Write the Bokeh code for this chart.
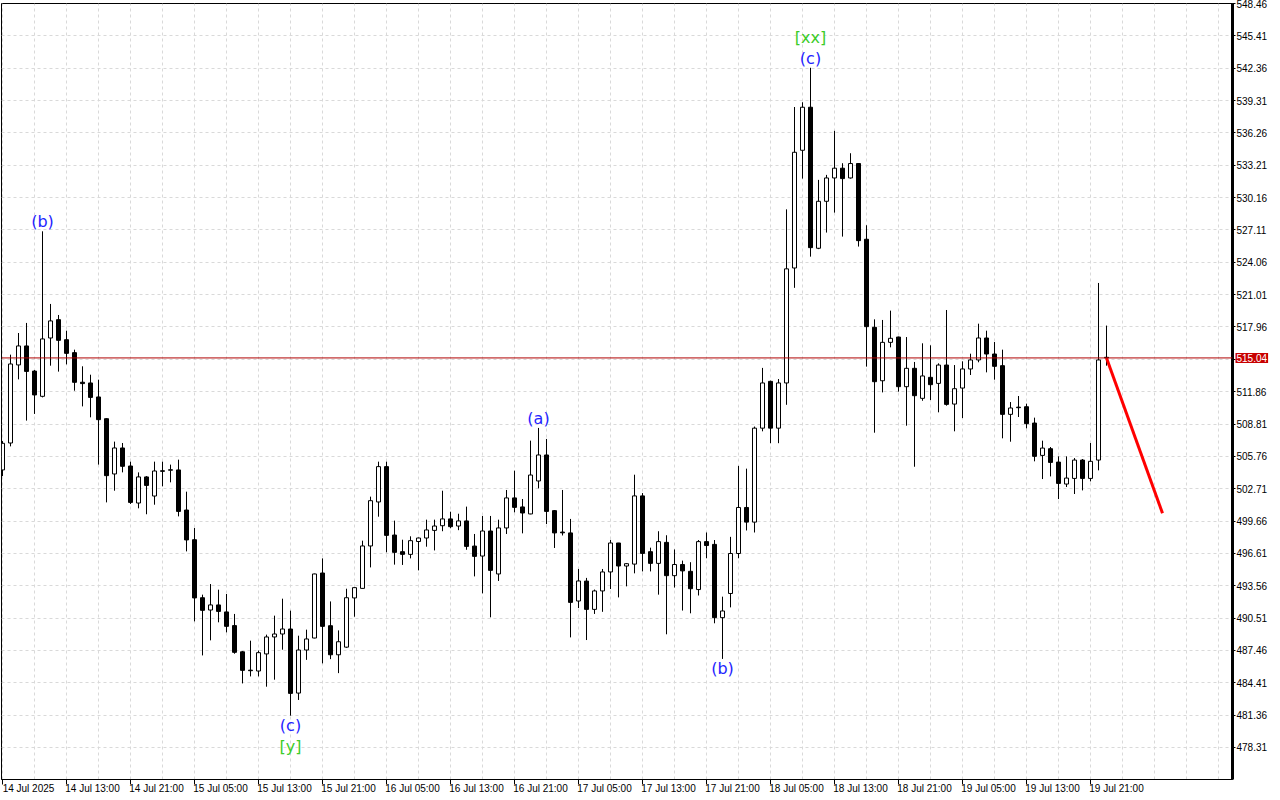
from bokeh.plotting import figure
from bokeh.models import Range1d, FixedTicker, Span, Label, ColumnDataSource, LinearAxis
from bokeh.embed import file_html
from bokeh.resources import INLINE
from bokeh.core.properties import value

# ---------------- data (hourly candles from 14 Jul 2025 05:00) ----------------
opens = [504.48, 507.02, 514.38, 516.17, 513.80, 511.42, 516.92, 518.65, 516.76, 515.54,
         512.75, 512.68, 511.36, 509.31, 504.10, 506.55, 504.85, 501.36, 503.82, 502.02,
         504.40, 504.45, 504.48, 500.70, 497.90, 492.43, 491.27, 491.75, 491.09, 489.80,
         487.33, 485.60, 485.52, 487.13, 488.73, 489.01, 489.48, 483.44, 487.50, 488.63,
         494.76, 489.79, 487.05, 487.77, 492.41, 493.31, 497.31, 501.46, 504.79, 498.34,
         496.77, 496.52, 497.73, 498.06, 498.78, 499.22, 499.86, 499.19, 499.67, 497.30,
         496.36, 498.72, 494.67, 499.01, 501.84, 500.99, 500.33, 503.44, 505.89, 500.64,
         498.62, 498.54, 492.12, 494.00, 491.33, 493.07, 494.86, 497.59, 495.42, 495.60,
         502.03, 496.77, 495.67, 497.65, 494.51, 495.56, 494.92, 493.20, 497.72, 497.46,
         490.55, 492.83, 496.60, 500.94, 499.56, 508.42, 512.83, 508.42, 512.68, 523.52,
         534.62, 538.68, 525.38, 529.81, 532.01, 532.93, 532.01, 533.37, 526.23, 517.93,
         512.89, 516.51, 517.01, 512.33, 514.06, 511.23, 513.21, 512.64, 514.37, 510.69,
         512.20, 514.00, 514.85, 516.92, 515.41, 514.31, 509.72, 510.40, 510.44, 508.90,
         505.85, 506.48, 505.22, 503.15, 503.68, 505.41, 503.68, 505.41, 515.10]
highs = [507.20, 515.35, 517.39, 518.34, 513.90, 526.98, 520.13, 519.09, 517.61, 515.82,
         514.25, 513.46, 512.99, 509.35, 507.15, 507.02, 505.26, 504.25, 503.90, 505.26,
         505.26, 504.98, 505.45, 502.43, 499.01, 492.72, 493.72, 493.19, 492.78, 490.90,
         487.40, 488.38, 487.45, 488.95, 490.74, 492.34, 491.21, 488.85, 489.42, 494.70,
         496.14, 492.08, 489.35, 493.28, 493.40, 497.81, 501.96, 505.26, 505.26, 499.70,
         497.90, 498.22, 498.10, 499.79, 499.79, 502.52, 500.54, 500.35, 501.02, 498.44,
         500.14, 500.14, 499.79, 502.59, 504.41, 501.74, 507.24, 508.44, 507.40, 500.70,
         502.59, 499.86, 495.14, 494.30, 493.20, 495.14, 497.88, 497.60, 495.70, 504.03,
         502.30, 497.15, 498.70, 498.32, 496.98, 495.93, 495.78, 497.87, 498.58, 497.87,
         492.53, 498.17, 504.86, 504.60, 508.57, 514.10, 512.90, 513.05, 529.05, 538.70,
         539.15, 542.40, 531.83, 532.30, 536.45, 533.40, 534.34, 533.40, 527.55, 518.68,
         518.62, 519.50, 517.05, 517.01, 514.66, 516.42, 516.23, 514.53, 519.56, 514.37,
         514.72, 515.44, 518.27, 517.61, 516.54, 515.82, 510.88, 511.45, 510.73, 509.41,
         507.24, 506.64, 505.76, 505.76, 505.60, 505.51, 507.02, 522.11, 518.09]
lows = [503.90, 506.70, 513.02, 509.13, 509.76, 511.32, 514.31, 513.75, 514.43, 511.95,
        510.47, 509.44, 504.98, 501.42, 502.52, 504.25, 501.27, 500.86, 500.30, 501.20,
        502.93, 503.31, 500.10, 496.80, 490.20, 486.99, 488.41, 490.11, 489.16, 487.15,
        484.35, 485.01, 485.01, 484.04, 484.70, 487.53, 481.31, 482.79, 486.57, 488.60,
        486.24, 486.64, 485.32, 487.70, 490.64, 493.30, 495.29, 500.07, 496.71, 495.55,
        495.52, 496.14, 495.01, 497.24, 496.89, 498.70, 498.98, 498.80, 496.95, 494.44,
        492.84, 490.58, 494.01, 498.44, 500.48, 498.50, 500.30, 502.74, 499.38, 497.12,
        498.30, 488.69, 491.46, 488.44, 490.90, 491.10, 493.25, 492.46, 493.50, 494.73,
        494.91, 494.91, 492.72, 488.98, 493.39, 491.22, 490.96, 492.64, 496.15, 490.02,
        486.66, 491.52, 496.15, 498.77, 498.58, 508.12, 507.00, 507.00, 510.62, 521.65,
        531.95, 524.59, 525.30, 526.86, 528.74, 526.48, 531.95, 525.54, 514.22, 507.99,
        511.79, 516.04, 511.86, 508.65, 504.78, 511.00, 511.07, 509.91, 510.54, 508.12,
        509.37, 513.43, 514.63, 513.68, 512.99, 507.46, 507.14, 509.47, 508.40, 505.29,
        503.62, 503.87, 501.73, 502.87, 502.21, 502.55, 503.40, 504.44, 514.31]
closes = [506.99, 514.47, 516.17, 513.77, 511.55, 516.83, 518.53, 516.70, 515.47, 512.74,
          512.62, 511.32, 509.22, 503.94, 506.55, 504.82, 501.42, 503.82, 503.02, 504.38,
          504.35, 504.50, 500.57, 497.88, 492.41, 491.24, 491.75, 491.14, 489.73, 487.28,
          485.58, 485.55, 487.25, 488.73, 489.01, 489.48, 483.41, 487.50, 488.54, 494.67,
          489.73, 487.05, 488.28, 492.43, 493.38, 497.31, 501.58, 504.79, 498.31, 496.71,
          496.52, 497.81, 498.06, 498.82, 499.19, 499.86, 499.13, 499.67, 497.27, 496.33,
          498.72, 495.01, 499.01, 501.84, 500.95, 500.42, 504.00, 505.89, 500.57, 498.54,
          498.55, 491.99, 494.01, 491.33, 493.07, 494.86, 497.59, 495.42, 495.64, 502.03,
          496.61, 495.67, 497.72, 494.51, 495.56, 494.96, 493.28, 497.72, 497.35, 490.55,
          491.18, 496.60, 500.94, 499.56, 508.42, 512.68, 508.42, 512.68, 523.44, 534.43,
          538.68, 525.44, 529.81, 532.01, 532.93, 531.95, 533.37, 526.10, 517.99, 512.80,
          516.51, 516.89, 512.33, 514.06, 511.48, 513.34, 512.52, 514.37, 510.66, 512.14,
          514.00, 514.85, 516.92, 515.41, 514.25, 509.72, 510.32, 510.35, 508.84, 505.76,
          506.54, 505.19, 503.21, 503.71, 505.41, 503.68, 505.29, 514.85, 515.04]

price_ticks = [548.46, 545.41, 542.36, 539.31, 536.26, 533.21, 530.16, 527.11, 524.06, 521.01,
               517.96, 514.91, 511.86, 508.81, 505.76, 502.71, 499.66, 496.61, 493.56, 490.51,
               487.46, 484.41, 481.36, 478.31]
price_tick_labels = ["548.46", "545.41", "542.36", "539.31", "536.26", "533.21", "530.16", "527.11",
                     "524.06", "521.01", "517.96", "", "511.86", "508.81", "505.76", "502.71",
                     "499.66", "496.61", "493.56", "490.51", "487.46", "484.41", "481.36", "478.31"]
time_labels = ["14 Jul 2025", "14 Jul 13:00", "14 Jul 21:00", "15 Jul 05:00", "15 Jul 13:00",
               "15 Jul 21:00", "16 Jul 05:00", "16 Jul 13:00", "16 Jul 21:00", "17 Jul 05:00",
               "17 Jul 13:00", "17 Jul 21:00", "18 Jul 05:00", "18 Jul 13:00", "18 Jul 21:00",
               "19 Jul 05:00", "19 Jul 13:00", "19 Jul 21:00"]
bars_per_label = 8
bars_per_vgrid = 4
current_price = 515.04
forecast_bars = [138, 145]
forecast_prices = [515.04, 500.4]

# wave labels: text, bar index, anchor ("high"/"low"), colour, stack level
wave_labels = [
    ("(b)", 5, "high", "#2424ff", 0),
    ("(c)", 36, "low", "#2424ff", 0),
    ("[y]", 36, "low", "#3ccc28", 1),
    ("(a)", 67, "high", "#2424ff", 0),
    ("(b)", 90, "low", "#2424ff", 0),
    ("(c)", 101, "high", "#2424ff", 0),
    ("[xx]", 101, "high", "#3ccc28", 1),
]

# ---------------- layout ----------------
FRAME_W, FRAME_H = 1231, 776
BORDER_LEFT, BORDER_TOP = 1, 3
BAR_PX = 8
y_lo, y_hi = 475.29, 548.46
x_start = -0.125
x_end = x_start + FRAME_W / BAR_PX
px_per_price = FRAME_H / (y_hi - y_lo)
FONT = "Liberation Sans"
TAG_PANEL_H = 10  # height taken by the price tag placed in the top panel

p = figure(frame_width=FRAME_W, frame_height=FRAME_H,
           x_range=Range1d(x_start, x_end), y_range=Range1d(y_lo, y_hi),
           y_axis_location="right", output_backend="svg", toolbar_location=None,
           min_border_left=BORDER_LEFT, min_border_top=BORDER_TOP,
           min_border_bottom=0, min_border_right=0,
           background_fill_color="white", border_fill_color="white")
p.styles = {"margin-top": f"-{TAG_PANEL_H - BORDER_TOP}px"}
p.outline_line_color = "black"
p.outline_line_width = 1

grid_color = "#d9d9d9"
p.xgrid.ticker = FixedTicker(ticks=list(range(0, 156, bars_per_vgrid)))
p.ygrid.ticker = FixedTicker(ticks=price_ticks)
for g in (p.xgrid, p.ygrid):
    g.grid_line_color = grid_color
    g.grid_line_dash = "3 3"
    g.grid_line_width = 1

# right price axis
ya = p.yaxis[0]
ya.ticker = FixedTicker(ticks=price_ticks)
ya.major_label_overrides = {t: s for t, s in zip(price_ticks, price_tick_labels)}
ya.major_tick_out = 3
ya.major_tick_in = 0
ya.minor_tick_out = 0
ya.minor_tick_in = 0
ya.major_label_standoff = 1
ya.axis_line_width = 3
ya.axis_line_color = "black"
ya.major_tick_line_color = "black"
ya.major_label_text_font = FONT
ya.major_label_text_font_size = "10px"
ya.major_label_text_color = "black"

# bottom time axis: tick marks on the first axis, left-aligned labels on a second one
label_pos = [k * bars_per_label for k in range(len(time_labels))]
xa = p.xaxis[0]
xa.ticker = FixedTicker(ticks=label_pos)
xa.major_label_overrides = {pos: "" for pos in label_pos}
xa.major_label_text_font_size = "0px"
xa.major_label_standoff = 0
xa.major_tick_out = 5
xa.major_tick_in = 0
xa.minor_tick_out = 0
xa.minor_tick_in = 0
xa.axis_line_color = "black"
xa.major_tick_line_color = "black"

label_shift = 26 / BAR_PX  # label centre sits half a label width right of its tick
shifted = [pos + label_shift for pos in label_pos]
xb = LinearAxis(ticker=FixedTicker(ticks=shifted),
                major_label_overrides={s: lab for s, lab in zip(shifted, time_labels)})
xb.axis_line_color = None
xb.major_tick_line_color = None
xb.minor_tick_line_color = None
xb.major_tick_out = 0
xb.major_tick_in = 0
xb.minor_tick_out = 0
xb.minor_tick_in = 0
xb.major_label_standoff = -2
xb.major_label_text_font = FONT
xb.major_label_text_font_size = "10px"
xb.major_label_text_color = "black"
p.add_layout(xb, "below")

# ---------------- candles ----------------
idx = list(range(len(opens)))
tops = [max(o, c) for o, c in zip(opens, closes)]
bots = [min(o, c) for o, c in zip(opens, closes)]
fills = ["white" if c >= o else "black" for o, c in zip(opens, closes)]
src = ColumnDataSource(dict(x=idx, o=opens, h=highs, l=lows, c=closes, top=tops, bot=bots, fill=fills))

p.segment(x0="x", y0="l", x1="x", y1="h", source=src, line_color="black", line_width=1)
p.vbar(x="x", width=4 / BAR_PX, top="top", bottom="bot", source=src,
       fill_color="fill", line_color="black", line_width=1)

# current price line
p.add_layout(Span(location=current_price, dimension="width", line_color="#b00000", line_width=1))

# forecast line
p.line(forecast_bars, forecast_prices, line_color="#ff0000", line_width=3)

# wave labels
for text, bar, anchor, color, level in wave_labels:
    stack = level * 21 / px_per_price
    if anchor == "high":
        yv = highs[bar] + stack
        base = "bottom"
    else:
        yv = lows[bar] - stack
        base = "top"
    p.text(x=[bar], y=[yv], text=[text], text_color=color, text_align="center",
           text_baseline=base, text_font=value("DejaVu Sans"), text_font_size="16px")

# current price tag on the price axis (held in a side panel so it is not clipped to the frame)
tag = Label(x=x_end, y=current_price, x_offset=3, text=f"{current_price:.2f}",
            text_color="white", text_font=FONT, text_font_size="10px",
            text_align="left", text_baseline="middle",
            background_fill_color="#c80000", border_line_color=None, padding=1)
p.add_layout(tag, "above")

open("out.html", "w").write(file_html(p, INLINE))
